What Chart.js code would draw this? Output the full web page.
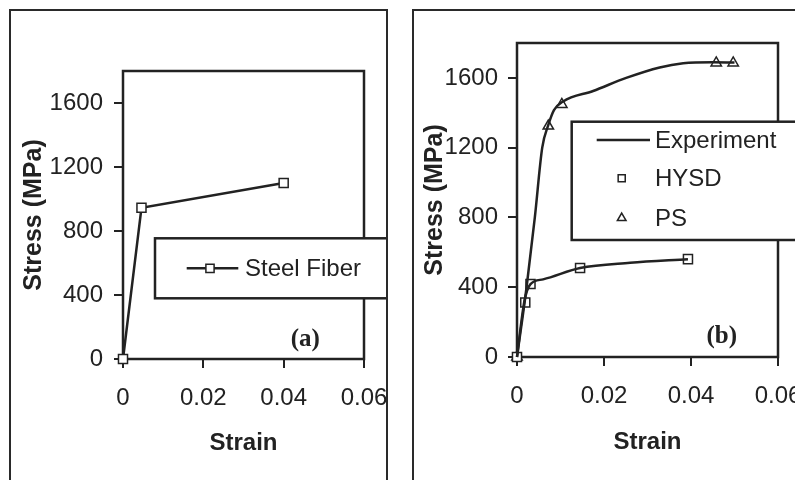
<!DOCTYPE html>
<html><head><meta charset="utf-8">
<script src="https://cdn.jsdelivr.net/npm/chart.js@4/dist/chart.umd.min.js"></script>
<style>
html,body{margin:0;padding:0;background:#fff;width:795px;height:480px;overflow:hidden;}
.panel{position:absolute;box-sizing:border-box;border:2px solid #2a2a2a;overflow:hidden;background:#fff;}
#pa{left:9px;top:9px;width:379px;height:520px;}
#pb{left:412px;top:9px;width:420px;height:520px;}
#pa canvas{position:absolute;left:-11px;top:-11px;}
#pb canvas{position:absolute;left:-14px;top:-11px;}
</style></head>
<body>
<div class="panel" id="pa"><canvas id="ca" width="400" height="480"></canvas></div>
<div class="panel" id="pb"><canvas id="cb" width="395" height="480"></canvas></div>
<script>
// ---- data ----
const xTickValues = [0, 0.02, 0.04, 0.06];
const yTickValues = [0, 400, 800, 1200, 1600];

// panel (a)
const steelFiberStrain = [0, 0.0046, 0.04];
const steelFiberStress = [0, 945, 1100];

// panel (b)
const expHysdStrain = [0, 0.0017, 0.0031, 0.006, 0.0145, 0.026, 0.0393];
const expHysdStress = [0, 320, 418, 445, 510, 540, 561];
const expPsStrain = [0, 0.0022, 0.0041, 0.0058, 0.0072, 0.0085, 0.0106, 0.0175, 0.0251, 0.0328, 0.0382, 0.045, 0.05];
const expPsStress = [0, 400, 800, 1200, 1330, 1415, 1465, 1525, 1600, 1660, 1684, 1690, 1688];
const hysdStrain = [0, 0.0019, 0.0031, 0.0145, 0.0393];
const hysdStress = [0, 312, 418, 510, 561];
const psStrain = [0, 0.0072, 0.0103, 0.0458, 0.0497];
const psStress = [0, 1324, 1448, 1686, 1686];

// ---- rendering ----
const INK = '#222';
const SANS = '"Liberation Sans", Arial, sans-serif';
const pts = (xs, ys) => xs.map((x, i) => ({x: x, y: ys[i]}));

function marker(ctx, style, x, y, r) {
  ctx.beginPath();
  if (style === 'rect') {
    const s = r * Math.SQRT1_2;
    ctx.rect(x - s, y - s, 2 * s, 2 * s);
  } else {
    ctx.moveTo(x, y - r);
    ctx.lineTo(x + r * Math.sin(Math.PI * 2 / 3), y - r * Math.cos(Math.PI * 2 / 3));
    ctx.lineTo(x + r * Math.sin(Math.PI * 4 / 3), y - r * Math.cos(Math.PI * 4 / 3));
    ctx.closePath();
  }
  ctx.fillStyle = '#fff';
  ctx.fill();
  ctx.stroke();
}

const framePlugin = {
  id: 'frame',
  beforeDatasetsDraw(chart) {
    const {ctx, chartArea: a} = chart;
    ctx.save();
    ctx.strokeStyle = INK; ctx.lineWidth = 2.5;
    ctx.strokeRect(a.left, a.top, a.right - a.left, a.bottom - a.top);
    ctx.restore();
  }
};

const boxLegendPlugin = {
  id: 'boxLegend',
  afterDraw(chart, args, o) {
    const ctx = chart.ctx;
    ctx.save();
    ctx.fillStyle = '#fff'; ctx.strokeStyle = INK; ctx.lineWidth = 2.5;
    ctx.fillRect(o.box[0], o.box[1], o.box[2], o.box[3]);
    ctx.strokeRect(o.box[0], o.box[1], o.box[2], o.box[3]);
    ctx.font = '24px ' + SANS;
    ctx.textBaseline = 'middle'; ctx.textAlign = 'left';
    o.items.forEach(it => {
      const ds = chart.data.datasets[it.ds];
      ctx.strokeStyle = INK;
      if (it.line) {
        ctx.lineWidth = ds.borderWidth;
        ctx.beginPath(); ctx.moveTo(it.line[0], it.y); ctx.lineTo(it.line[1], it.y); ctx.stroke();
      }
      if (it.mx) {
        ctx.lineWidth = ds.pointBorderWidth;
        marker(ctx, ds.pointStyle, it.mx, it.y, it.r);
      }
      ctx.fillStyle = INK;
      ctx.fillText(ds.label, it.tx, it.y + 1);
    });
    ctx.restore();
  }
};

const tagPlugin = {
  id: 'tag',
  afterDraw(chart, args, o) {
    const ctx = chart.ctx;
    ctx.save();
    ctx.font = 'bold 25px "Liberation Serif", "Times New Roman", serif';
    ctx.fillStyle = INK; ctx.textAlign = 'center'; ctx.textBaseline = 'middle';
    ctx.fillText(o.text, o.x, o.y);
    ctx.restore();
  }
};

function scales(p) {
  return {
    x: {
      type: 'linear', min: 0, max: 0.06,
      afterBuildTicks: s => { s.ticks = xTickValues.map(v => ({value: v})); },
      afterFit: s => { s.height = p.xh; s.paddingLeft = 0; s.paddingRight = 0; },
      ticks: {callback: v => v === 0 ? '0' : v.toFixed(2), font: {family: SANS, size: 24}, color: INK,
              padding: 16, maxRotation: 0, autoSkip: false},
      grid: {drawOnChartArea: false, drawTicks: true, tickLength: 9, lineWidth: 2, color: INK},
      border: {display: false},
      title: {display: true, text: 'Strain', color: INK,
              font: {family: SANS, size: 24, weight: 'bold', lineHeight: 1},
              padding: {top: 0, bottom: p.xtp}}
    },
    y: {
      type: 'linear', min: 0, max: 1800,
      afterBuildTicks: s => { s.ticks = yTickValues.map(v => ({value: v})); },
      afterFit: s => { s.width = p.yw; s.paddingTop = 0; s.paddingBottom = 0; },
      ticks: {callback: v => String(v), font: {family: SANS, size: 24}, color: INK, padding: p.ytp, autoSkip: false},
      grid: {drawOnChartArea: false, drawTicks: true, tickLength: 9, lineWidth: 2, color: INK},
      border: {display: false},
      title: {display: true, text: 'Stress (MPa)', color: INK,
              font: {family: SANS, size: 25, weight: 'bold', lineHeight: 1},
              padding: {top: p.ttp, bottom: 0}}
    }
  };
}

new Chart(document.getElementById('ca'), {
  type: 'scatter',
  data: {datasets: [{
    label: 'Steel Fiber', data: pts(steelFiberStrain, steelFiberStress), showLine: true,
    borderColor: INK, borderWidth: 2.5, pointStyle: 'rect', pointRadius: 6.4,
    pointBackgroundColor: '#fff', pointBorderColor: INK, pointBorderWidth: 1.5, clip: false
  }]},
  options: {
    responsive: false, animation: false,
    layout: {padding: {top: 71, right: 36, left: 0, bottom: 0}},
    scales: scales({xh: 121, xtp: 25, yw: 123, ytp: 11, ttp: 21.5}),
    plugins: {
      legend: {display: false}, tooltip: {enabled: false},
      boxLegend: {box: [155, 238.3, 260, 60], items: [{ds: 0, line: [186.7, 238.3], mx: 210, r: 5.8, y: 268.3, tx: 245}]},
      tag: {text: '(a)', x: 305.3, y: 340}
    }
  },
  plugins: [framePlugin, boxLegendPlugin, tagPlugin]
});

new Chart(document.getElementById('cb'), {
  type: 'scatter',
  data: {datasets: [
    {label: 'Experiment', data: pts(expHysdStrain, expHysdStress), showLine: true, borderColor: INK,
     borderWidth: 2.5, pointRadius: 0, cubicInterpolationMode: 'monotone', clip: false},
    {label: 'Experiment', data: pts(expPsStrain, expPsStress), showLine: true, borderColor: INK,
     borderWidth: 2.5, pointRadius: 0, cubicInterpolationMode: 'monotone', clip: false},
    {label: 'HYSD', data: pts(hysdStrain, hysdStress), showLine: false, pointStyle: 'rect', pointRadius: 6.4,
     pointBackgroundColor: '#fff', pointBorderColor: INK, pointBorderWidth: 1.5, clip: false},
    {label: 'PS', data: pts(psStrain, psStress), showLine: false, pointStyle: 'triangle', pointRadius: 6,
     pointBackgroundColor: '#fff', pointBorderColor: INK, pointBorderWidth: 1.5, clip: false}
  ]},
  options: {
    responsive: false, animation: false,
    layout: {padding: {top: 43, right: 17, left: 0, bottom: 0}},
    scales: scales({xh: 123, xtp: 26, yw: 117, ytp: 10, ttp: 23}),
    plugins: {
      legend: {display: false}, tooltip: {enabled: false},
      boxLegend: {box: [171.7, 121.7, 260, 118.3], items: [
        {ds: 0, line: [196.7, 250], y: 140, tx: 255},
        {ds: 2, mx: 221.7, r: 5, y: 178.3, tx: 255},
        {ds: 3, mx: 221.7, r: 5, y: 218, tx: 255}
      ]},
      tag: {text: '(b)', x: 321.7, y: 336.7}
    }
  },
  plugins: [framePlugin, boxLegendPlugin, tagPlugin]
});
</script>
</body></html>
